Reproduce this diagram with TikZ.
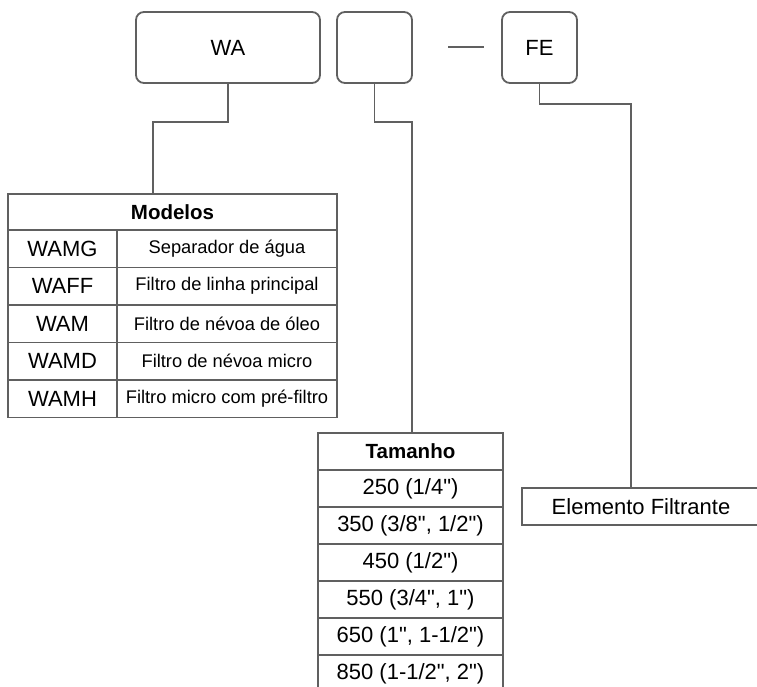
\documentclass[tikz,border=0pt]{standalone}
\usepackage{fontspec}
\setmainfont{Liberation Sans}[Ligatures=TeXOff]
\definecolor{linha}{RGB}{96,96,96}
\tikzset{
  campo/.style={draw=linha,line width=1.8pt,rounded corners=8pt,minimum height=71pt,inner sep=0pt,font=\fontsize{22}{26}\selectfont},
  celula/.style={draw=linha,line width=1.8pt,inner sep=0pt,minimum height=37.5pt},
  liga/.style={draw=linha,line width=1.8pt},
  grande/.style={font=\fontsize{22}{26}\selectfont},
  pequena/.style={font=\fontsize{18.3}{22}\selectfont},
  titulo/.style={font=\bfseries\fontsize{20.5}{24}\selectfont}
}
\begin{document}
\begin{tikzpicture}[x=1pt,y=-1pt]
  \clip (0,0) rectangle (757,687);
  \node[campo,minimum width=184pt] (wa) at (228,47.5) {WA};
  \node[campo,minimum width=75pt] (tam) at (374.5,47.5) {};
  \node[campo,minimum width=75pt] (fe) at (539.5,47.5) {FE};
  \coordinate (tr1) at (448,47); \coordinate (tr2) at (484,47);
  \draw[liga] (tr1) -- (tr2);

  \node[celula,titulo,minimum width=329pt,minimum height=36pt] (modelos) at (172.5,212) {Modelos};
  \foreach \cod/\desc [count=\i] in {WAMG/Separador de água,WAFF/Filtro de linha principal,
      WAM/Filtro de névoa de óleo,WAMD/Filtro de névoa micro,WAMH/Filtro micro com pré-filtro}{
    \node[celula,grande,minimum width=109pt] (cod\i) at (62.5,211.25+37.5*\i) {\cod};
    \node[celula,pequena,minimum width=220pt] (desc\i) at (227,211.25+37.5*\i) {\desc};
  }

  \node[celula,titulo,minimum width=185pt,minimum height=37pt] (tamanho) at (410.5,451.5) {Tamanho};
  \foreach \val [count=\i] in {{250 (1/4")},{350 (3/8", 1/2")},{450 (1/2")},
      {550 (3/4", 1")},{650 (1", 1-1/2")},{850 (1-1/2", 2")}}{
    \node[celula,grande,minimum width=185pt,minimum height=37pt] (tam\i) at (410.5,451.5+37*\i) {\val};
  }

  \node[celula,grande,minimum width=238pt,minimum height=37pt] (elemento) at (641,506.5) {Elemento Filtrante};

  \coordinate (em) at (153,194);
  \coordinate (et) at (412,433);
  \coordinate (ee) at (631,488);
  \draw[liga] (wa.south) -- ++(0,38) -| (em);
  \draw[liga] (tam.south) -- ++(0,38) -| (et);
  \draw[liga] (fe.south) -- ++(0,20) -| (ee);
\end{tikzpicture}
\end{document}
